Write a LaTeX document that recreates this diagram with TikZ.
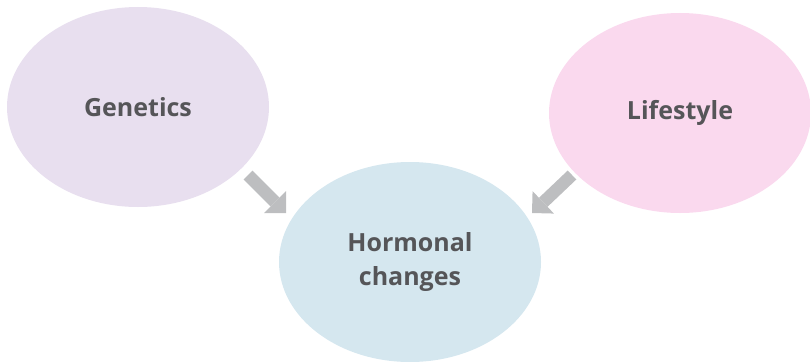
\documentclass[tikz,border=0pt]{standalone}
\usepackage{fontspec}
\setmainfont{Open Sans}
\usetikzlibrary{arrows.meta,shapes.geometric}
\definecolor{genfill}{HTML}{E8DFEF}
\definecolor{lifefill}{HTML}{FAD9EE}
\definecolor{hormfill}{HTML}{D5E7EF}
\definecolor{arrowgray}{HTML}{BDBEC0}
\definecolor{labelgray}{HTML}{555558}
\begin{document}
\begin{tikzpicture}[x=1pt, y=-1pt, font=\fontsize{25}{34}\selectfont\bfseries, text=labelgray,
	bubble/.style={ellipse, minimum width=262pt, minimum height=200pt, inner sep=0pt, align=center},
	bigarrow/.style={draw=arrowgray, line width=12.4pt, -{Triangle[width=31pt, length=15.5pt, line width=0pt, fill=arrowgray]}}]
	\useasboundingbox (0,0) rectangle (810,361);
	\node[bubble, fill=genfill] (genetics) at (138,107) {Genetics};
	\node[bubble, fill=lifefill] (lifestyle) at (680,113) {Lifestyle};
	\node[bubble, fill=hormfill] (hormonal) at (410,262) {Hormonal\\changes};
	\coordinate (gtail) at (248,175);
	\coordinate (gtip) at (286,213);
	\coordinate (ltail) at (572,175);
	\coordinate (ltip) at (532,213);
	\draw[bigarrow] (gtail) -- (gtip);
	\draw[bigarrow] (ltail) -- (ltip);
\end{tikzpicture}
\end{document}
